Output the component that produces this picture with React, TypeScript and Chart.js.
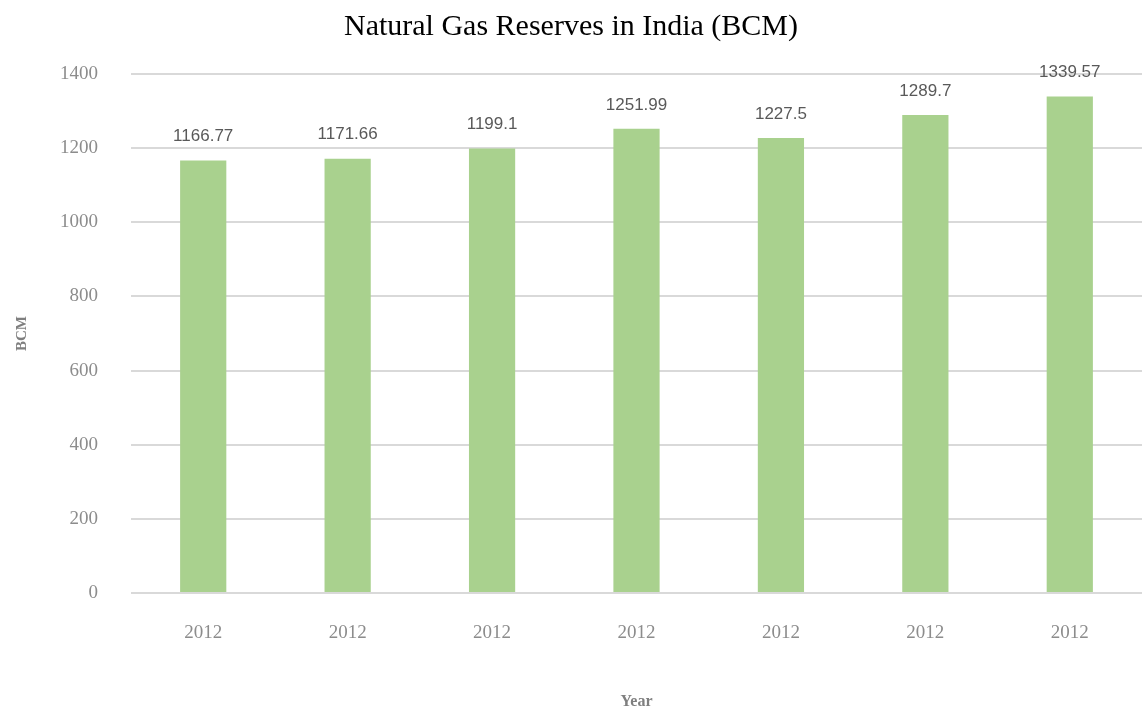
import React, { useEffect, useRef } from "react";
import { Chart, registerables } from "chart.js";

Chart.register(...registerables);

const categories = ["2012", "2012", "2012", "2012", "2012", "2012", "2012"];
const reserves = [1166.77, 1171.66, 1199.1, 1251.99, 1227.5, 1289.7, 1339.57];
const valueLabels = ["1166.77", "1171.66", "1199.1", "1251.99", "1227.5", "1289.7", "1339.57"];

const labelPlugin = {
  id: "valueLabels",
  afterDatasetsDraw(chart: any) {
    const ctx = chart.ctx;
    const meta = chart.getDatasetMeta(0);
    ctx.save();
    ctx.font = "17px 'Liberation Sans'";
    ctx.fillStyle = "#595959";
    ctx.textAlign = "center";
    ctx.textBaseline = "middle";
    meta.data.forEach((bar: any, i: number) => {
      ctx.fillText(valueLabels[i], bar.x, bar.y - 24);
    });
    ctx.restore();
  },
};

export default function App() {
  const ref = useRef<HTMLCanvasElement>(null);
  useEffect(() => {
    document.body.style.margin = "0";
    const chart = new Chart(ref.current!, {
      type: "bar",
      data: {
        labels: categories,
        datasets: [
          {
            data: reserves,
            backgroundColor: "#a9d18e",
            barPercentage: 0.32,
            categoryPercentage: 1,
          },
        ],
      },
      options: {
        animation: false,
        responsive: false,
        layout: { padding: { left: 0, right: 0, top: 0, bottom: 0 } },
        plugins: {
          legend: { display: false },
          tooltip: { enabled: false },
          title: {
            display: true,
            text: "Natural Gas Reserves in India (BCM)",
            color: "#000000",
            font: { family: "'Liberation Serif'", size: 30, weight: "normal" },
            padding: { top: 9, bottom: 29 },
          },
        },
        scales: {
          x: {
            grid: { display: false },
            border: { display: false },
            ticks: {
              color: "#8c8c8c",
              font: { family: "'Liberation Serif'", size: 19 },
              padding: 21,
            },
            title: {
              display: true,
              text: "Year",
              color: "#7f7f7f",
              font: { family: "'Liberation Serif'", size: 16, weight: "bold" },
              padding: { top: 40, bottom: 0 },
            },
            afterFit(scale: any) {
              scale.height = 118;
            },
          },
          y: {
            min: 0,
            max: 1400,
            ticks: {
              stepSize: 200,
              color: "#8c8c8c",
              font: { family: "'Liberation Serif'", size: 19 },
              padding: 33,
              callback: (v: any) => String(v),
            },
            grid: {
              color: "#d9d9d9",
              lineWidth: 2,
              drawTicks: false,
            },
            border: { display: false },
            title: {
              display: true,
              text: "BCM",
              color: "#7f7f7f",
              font: { family: "'Liberation Serif'", size: 15, weight: "bold" },
              padding: { top: 13, bottom: 0 },
            },
            afterFit(scale: any) {
              scale.width = 131;
            },
          },
        },
      },
      plugins: [labelPlugin],
    });
    return () => chart.destroy();
  }, []);
  return <canvas ref={ref} width={1142} height={711} style={{ display: "block" }} />;
}
